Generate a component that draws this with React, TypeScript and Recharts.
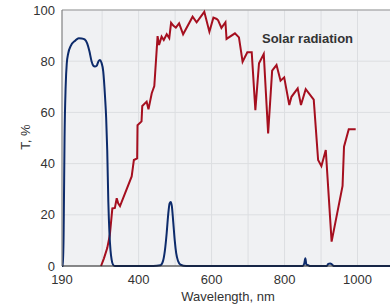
import React from 'react';
import { LineChart, Line, XAxis, YAxis, CartesianGrid, ReferenceLine } from 'recharts';

const filterWavelengths = [190, 193, 195, 197, 200, 203, 207, 214, 226, 236, 244, 252, 259, 265, 271, 276, 280, 285, 290, 294, 298, 303, 308, 311, 314, 317, 320, 323, 326, 330, 335, 440, 460, 467, 472, 477, 481, 485, 488, 491, 495, 499, 503, 508, 515, 530, 850, 854, 857, 860, 865, 870, 915, 920, 925, 930, 935, 1100];
const filterValues = [0, 0, 20, 50, 70, 79, 83, 86, 88, 89, 88.9, 88.5, 87, 84, 80, 78.2, 77.9, 78.2, 80, 80.5, 79.5, 76, 66, 58, 45, 25, 13, 6, 2.5, 0.5, 0, 0, 0.3, 2, 6, 13, 20, 24.5, 25, 23.5, 17, 10, 5, 2, 0.5, 0, 0, 1, 3, 0.5, 0.3, 0, 0, 0.8, 1, 0.6, 0, 0];

const solarWavelengths = [297, 305, 314, 321, 328, 335, 340, 344, 349, 381, 387, 396, 397, 408, 410, 422, 427, 436, 443, 452, 456, 463, 469, 477, 484, 489, 495, 502, 511, 522, 548, 559, 580, 594, 605, 614, 618, 627, 638, 641, 664, 675, 685, 698, 710, 720, 730, 743, 755, 766, 778, 789, 799, 813, 819, 836, 845, 858, 880, 892, 901, 913, 929, 959, 963, 976, 995];
const solarValues = [0, 3, 7, 12, 22.5, 22.7, 26.5, 24.5, 23.4, 35, 41.4, 42, 55, 56.5, 62.5, 64.2, 61.2, 67.5, 70.3, 89.8, 86.3, 89.6, 88.3, 90.5, 89, 95, 93.9, 93.1, 94.8, 90.5, 97.4, 95.2, 99.3, 91.5, 97, 96.5, 96, 93, 95.2, 88.7, 90.9, 89.3, 79.8, 83.5, 83.5, 60.9, 79.2, 82.8, 51.8, 76.3, 78.5, 72.4, 73.7, 62.9, 66.1, 69.4, 62.9, 69.1, 65, 41.4, 39, 45.3, 9.5, 31.3, 46.6, 53.4, 53.4];

const xTicks = [190, 300, 400, 500, 600, 700, 800, 900, 1000, 1100];
const xLabelTicks = [190, 400, 600, 800, 1000];
const yTicks = [0, 20, 40, 60, 80, 100];

const filterData = filterWavelengths.map((x, i) => ({ x, y: filterValues[i] }));
const solarData = solarWavelengths.map((x, i) => ({ x, y: solarValues[i] }));

const FONT = '"Liberation Sans", Arial, sans-serif';

export default function App() {
  return (
    <div style={{ position: 'fixed', left: 0, top: 0, width: 390, height: 306, overflow: 'hidden', fontFamily: FONT, background: '#fff' }}>
      <LineChart width={394} height={306} margin={{ top: 10, right: 0, bottom: 10, left: 0 }}>
        <CartesianGrid stroke="#dcdee1" fill="#f0f1f3" horizontal vertical />
        <XAxis
          type="number"
          dataKey="x"
          domain={[190, 1100]}
          ticks={xTicks}
          allowDataOverflow
          tickFormatter={(v: number) => (xLabelTicks.includes(v) ? String(v) : '')}
          tickLine={false}
          tickSize={0}
          tickMargin={9}
          height={30}
          axisLine={{ stroke: '#222', strokeWidth: 1 }}
          tick={{ fill: '#333', fontSize: 13, fontFamily: FONT }}
          label={{ value: 'Wavelength, nm', position: 'bottom', offset: -4, fill: '#333', fontSize: 13, fontFamily: FONT }}
        />
        <YAxis
          type="number"
          domain={[0, 100]}
          ticks={yTicks}
          width={62}
          tickLine={false}
          tickSize={0}
          tickMargin={7}
          axisLine={{ stroke: '#777' }}
          tick={{ fill: '#333', fontSize: 13, fontFamily: FONT }}
        />
        <ReferenceLine y={100} stroke="#999" strokeWidth={1} />
        <Line data={solarData} dataKey="y" type="linear" stroke="#a50f1f" strokeWidth={2} dot={false} isAnimationActive={false} />
        <Line data={filterData} dataKey="y" type="monotone" stroke="#0d2b6b" strokeWidth={2} dot={false} isAnimationActive={false} />
      </LineChart>
      <div style={{ position: 'absolute', left: 25, top: 137, transform: 'translate(-50%, -50%) rotate(-90deg)', fontSize: 13, lineHeight: '15px', color: '#333', whiteSpace: 'nowrap' }}>T, %</div>
      <div style={{ position: 'absolute', left: 262, top: 31, fontSize: 13, lineHeight: '15px', fontWeight: 'bold', color: '#333', whiteSpace: 'nowrap' }}>Solar radiation</div>
    </div>
  );
}
